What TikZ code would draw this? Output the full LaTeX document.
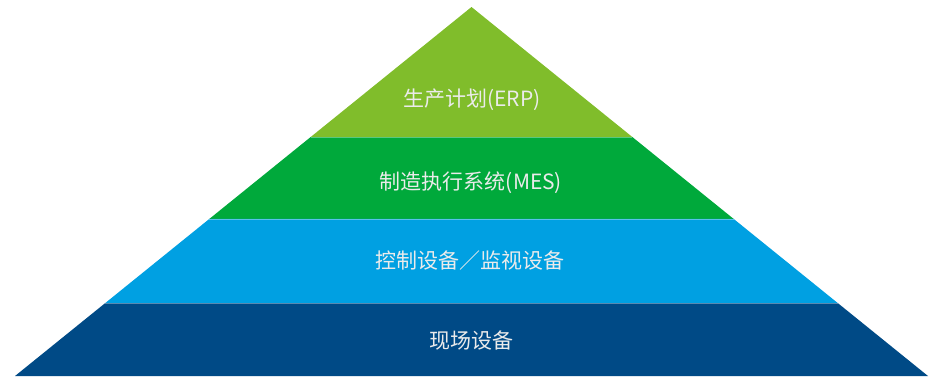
\documentclass[tikz,border=0pt]{standalone}
\usepackage{fontspec}
\setmainfont{Noto Sans CJK SC}
\usepackage{tikz}
\usetikzlibrary{calc}

\definecolor{erpgreen}{HTML}{80BD2B}
\definecolor{mesgreen}{HTML}{00A93B}
\definecolor{ctrlblue}{HTML}{00A0E2}
\definecolor{fielddark}{HTML}{004A86}

\begin{document}
\begin{tikzpicture}[x=1pt,y=-1pt]
  \tikzstyle{layertext} = [text=white!92!black, font=\fontsize{21}{24}\selectfont, inner sep=0pt]
  \tikzstyle{seam} = [white, opacity=0.35, line width=0.8pt]
  \useasboundingbox (0,0) rectangle (939,376);
  % Define corner points
  \coordinate (top) at (471.5,7);
  \coordinate (bl) at (15,376);
  \coordinate (br) at (928,376);
  \coordinate (l1) at ($(top)!0.3523!(bl)$);
  \coordinate (r1) at ($(top)!0.3523!(br)$);
  \coordinate (l2) at ($(top)!0.5745!(bl)$);
  \coordinate (r2) at ($(top)!0.5745!(br)$);
  \coordinate (l3) at ($(top)!0.8022!(bl)$);
  \coordinate (r3) at ($(top)!0.8022!(br)$);

  % Layers
  \fill[erpgreen] (top) -- (r1) -- (l1) -- cycle;
  \fill[mesgreen] (l1) -- (r1) -- (r2) -- (l2) -- cycle;
  \fill[ctrlblue] (l2) -- (r2) -- (r3) -- (l3) -- cycle;
  \fill[fielddark] (l3) -- (r3) -- (br) -- (bl) -- cycle;
  \draw[seam] (l1) -- (r1);
  \draw[seam] (l2) -- (r2);
  \draw[seam] (l3) -- (r3);

  % Labels
  \node[layertext] (erp) at (472,100) {生产计划(ERP)};
  \node[layertext] (mes) at (471,183) {制造执行系统(MES)};
  \node[layertext] (ctrl) at (470,261) {控制设备／监视设备};
  \node[layertext] (field) at (471,341) {现场设备};
\end{tikzpicture}
\end{document}
